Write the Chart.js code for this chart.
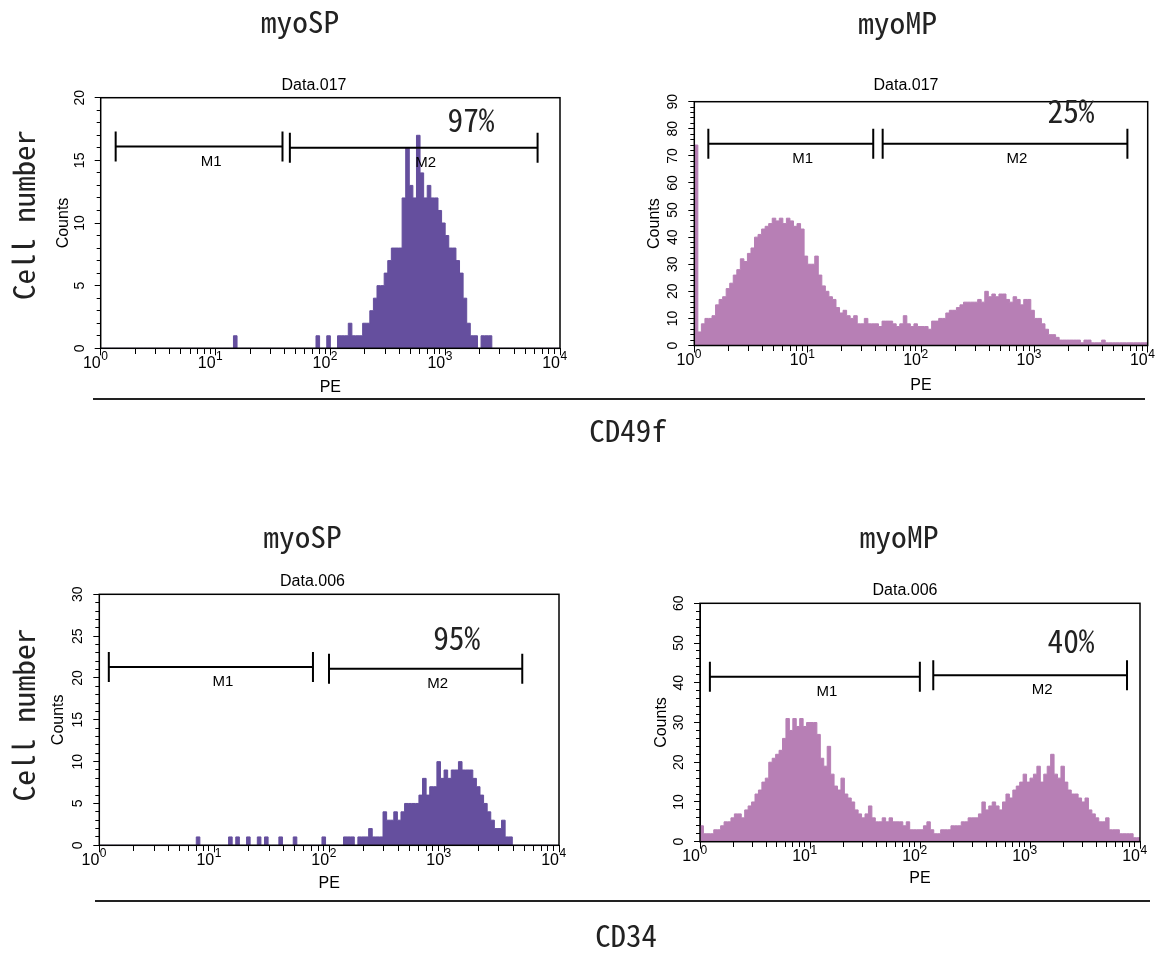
<!DOCTYPE html>
<html>
<head>
<meta charset="utf-8">
<script src="https://cdn.jsdelivr.net/npm/chart.js@4.4.1/dist/chart.umd.min.js"></script>
<style>
html,body{margin:0;padding:0;background:#fff;}
#page{position:relative;width:1173px;height:959px;overflow:hidden;background:#fff;}
canvas{position:absolute;}
</style>
</head>
<body>
<div id="page">
<canvas id="deco" width="1173" height="959" style="left:0;top:0;"></canvas>
<canvas id="c1"></canvas>
<canvas id="c2"></canvas>
<canvas id="c3"></canvas>
<canvas id="c4"></canvas>
</div>
<script>
// ---------- DATA ----------
const channelCount = 128; // log channels across 10^0 .. 10^4
const sampleNames = ['myoSP', 'myoMP'];
const markerNames = ['CD49f', 'CD34'];
const fileNames = ['Data.017', 'Data.006'];
const gateNames = ['M1', 'M2'];
const percentPositive = ['97%', '25%', '95%', '40%'];
const xTickValues = [1,2,3,4,5,6,7,8,9,10,20,30,40,50,60,70,80,90,100,200,300,400,500,600,700,800,900,1000,2000,3000,4000,5000,6000,7000,8000,9000,10000];
const decadeValues = [1, 10, 100, 1000, 10000];
const decadeExponents = ['0', '1', '2', '3', '4'];

// CD49f, myoSP (counts per channel)
const cd49fSP = [
0,0,0,0,0,0,0,0,0,0,
0,0,0,0,0,0,0,0,0,0,
0,0,0,0,0,0,0,0,0,0,
0,0,0,0,0,0,0,1,0,0,
0,0,0,0,0,0,0,0,0,0,
0,0,0,0,0,0,0,0,0,0,
1,0,0,1,0,0,1,1,1,2,
1,1,1,2,2,3,4,5,5,6,
7,8,8,8,12,16,13,12,17,14,
12,13,12,12,11,10,9,8,8,7,
6,4,2,1,1,0,1,1,1,0,
0,0,0,0,0,0,0,0,0,0,
0,0,0,0,0,0,0,0];
// CD49f, myoMP
const cd49fMP = [
74,5,8,10,10,11,15,17,18,21,
23,26,28,32,31,34,36,40,41,43,
44,45,47,46,47,45,47,46,44,45,
43,33,30,30,33,26,22,20,18,17,
14,12,13,11,10,11,8,8,10,8,
8,8,7,9,9,9,8,7,8,11,
8,7,8,7,7,7,6,9,9,10,
10,12,13,13,14,15,16,16,16,16,
17,16,20,18,19,18,19,19,17,16,
18,17,15,17,17,13,10,10,8,6,
4,4,3,2,2,2,2,2,2,1,
2,2,1,1,1,2,1,1,1,1,
1,1,1,1,1,1,1,1];
// CD34, myoSP
const cd34SP = [
0,0,0,0,0,0,0,0,0,0,
0,0,0,0,0,0,0,0,0,0,
0,0,0,0,0,0,0,1,0,0,
0,0,0,0,0,0,1,0,1,0,
0,1,0,0,1,0,1,0,0,0,
1,0,0,0,1,0,0,0,0,0,
0,0,1,0,0,0,0,0,1,1,
1,0,1,1,1,2,1,1,1,4,
3,3,4,3,4,5,5,5,5,6,
8,6,7,7,10,8,9,8,9,9,
10,9,9,9,8,7,6,5,4,3,
2,2,3,1,1,0,0,0,0,0,
0,0,0,0,0,0,0,0];
// CD34, myoMP
const cd34MP = [
4,2,2,2,3,3,4,5,5,6,
7,7,6,8,9,10,12,13,15,16,
20,21,22,23,26,31,28,31,29,31,
29,30,30,30,27,21,19,24,17,14,
13,16,12,11,10,8,7,6,7,9,
6,5,5,6,5,6,5,5,5,4,
5,3,3,3,3,4,5,3,2,2,
3,3,3,4,4,4,5,5,6,6,
6,7,10,8,9,10,9,8,10,12,
11,13,14,15,17,15,16,17,19,15,
17,19,22,17,16,19,15,13,12,12,
11,10,11,8,7,6,5,5,6,3,
3,3,2,2,2,2,1,1];

// marker gates: [from, to, count level]
const cd49fSPGates = [[1.35, 38.3, 16.1], [44.4, 6380, 16.0]];
const cd49fMPGates = [[1.33, 37.9, 74.5], [45.9, 6620, 74.5]];
const cd34SPGates  = [[1.21, 72.3, 21.3], [99.7, 4790, 21.1]];
const cd34MPGates  = [[1.23, 99.7, 41.5], [132, 7620, 41.9]];

// ---------- RENDERING ----------
const channelEdges = Array.from({length: channelCount + 1}, (_, i) => Math.pow(10, 4 * i / channelCount));
const isDecade = v => decadeValues.indexOf(v) >= 0;

Chart.defaults.font.family = '"Liberation Sans", Arial, sans-serif';
Chart.defaults.color = '#000';

const panelDecor = {
  id: 'panelDecor',
  afterDraw(chart, args, o) {
    const {ctx, chartArea: a, scales: {x, y}} = chart;
    ctx.save();
    ctx.strokeStyle = '#000';
    ctx.lineWidth = 1.5;
    ctx.strokeRect(a.left, a.top, a.right - a.left, a.bottom - a.top);
    // exponents of the decade tick labels
    ctx.fillStyle = '#000';
    ctx.font = '12px "Liberation Sans", Arial, sans-serif';
    ctx.textAlign = 'left';
    ctx.textBaseline = 'alphabetic';
    decadeValues.forEach((v, k) => {
      ctx.fillText(decadeExponents[k], x.getPixelForValue(v) + 0.5, a.bottom + 12);
    });
    // marker gates
    ctx.lineWidth = 2;
    ctx.font = '15px "Liberation Sans", Arial, sans-serif';
    ctx.textAlign = 'center';
    ctx.textBaseline = 'middle';
    o.gates.forEach((g, k) => {
      const x1 = x.getPixelForValue(g[0]);
      const x2 = x.getPixelForValue(g[1]);
      const yy = y.getPixelForValue(g[2]);
      ctx.beginPath();
      ctx.moveTo(x1, yy); ctx.lineTo(x2, yy);
      ctx.moveTo(x1, yy - 15); ctx.lineTo(x1, yy + 15);
      ctx.moveTo(x2, yy - 15); ctx.lineTo(x2, yy + 15);
      ctx.stroke();
      const mid = x.getPixelForValue(Math.sqrt(g[0] * g[1]));
      ctx.fillText(gateNames[k], mid + 12, yy + 15);
    });
    ctx.font = '16px "Liberation Sans", Arial, sans-serif';
    ctx.fillText(o.file, o.titleX, o.titleY);
    ctx.font = '32px "Noto Sans Mono CJK JP", "Noto Sans CJK JP", sans-serif';
    ctx.textBaseline = 'alphabetic';
    const w = ctx.measureText(o.pct).width;
    ctx.translate(o.pctX, o.pctY);
    ctx.scale(47 / w, 1);
    ctx.fillStyle = '#222';
    ctx.fillText(o.pct, 0, 0);
    ctx.restore();
  }
};

const panels = [
  {id:'c1', counts:cd49fSP, gates:cd49fSPGates, pct:percentPositive[0], file:fileNames[0], yMax:20, yMinor:1, yMajor:5, color:'#654f9e',
   area:{L:100.7, R:560, T:97.7, B:348.3}, titleAt:[314, 86], pctAt:[471, 131.7], countsX:64, peY:387.5},
  {id:'c2', counts:cd49fMP, gates:cd49fMPGates, pct:percentPositive[1], file:fileNames[0], yMax:90, yMinor:2, yMajor:10, color:'#b77fb5',
   area:{L:694.3, R:1147.7, T:101.7, B:345.5}, titleAt:[906, 86], pctAt:[1071, 122.7], countsX:655, peY:386},
  {id:'c3', counts:cd34SP, gates:cd34SPGates, pct:percentPositive[2], file:fileNames[1], yMax:30, yMinor:1, yMajor:5, color:'#654f9e',
   area:{L:99.3, R:559, T:594.3, B:845.3}, titleAt:[312.5, 581.7], pctAt:[456.7, 650], countsX:59, peY:884},
  {id:'c4', counts:cd34MP, gates:cd34MPGates, pct:percentPositive[3], file:fileNames[1], yMax:60, yMinor:2, yMajor:10, color:'#b77fb5',
   area:{L:700, R:1140, T:603.3, B:841.7}, titleAt:[905, 590.5], pctAt:[1071, 653], countsX:661.7, peY:878.3}
];

function makePanel(p) {
  const cv = document.getElementById(p.id);
  const cl = Math.floor(p.area.L) - 60, ct = Math.floor(p.area.T) - 30;
  const cw = Math.ceil(p.area.R) + 25 - cl, ch = Math.ceil(p.area.B) + 52 - ct;
  cv.width = cw; cv.height = ch;
  cv.style.left = cl + 'px'; cv.style.top = ct + 'px';
  cv.style.width = cw + 'px'; cv.style.height = ch + 'px';
  const yW = p.area.L - cl, padTop = p.area.T - ct, padRight = cl + cw - p.area.R, xH = ct + ch - p.area.B;
  const points = p.counts.map((c, i) => ({x: channelEdges[i], y: c}));
  points.push({x: channelEdges[channelCount], y: p.counts[channelCount - 1]});
  const isMajorY = v => v % p.yMajor === 0;
  return new Chart(cv, {
    type: 'line',
    data: {datasets: [{data: points, stepped: 'before', fill: 'origin', backgroundColor: p.color,
      borderColor: p.color, borderWidth: 1, pointRadius: 0, tension: 0}]},
    options: {
      responsive: false, animation: false, events: [],
      layout: {padding: {left: 0, top: padTop, right: padRight, bottom: 0}},
      plugins: {
        legend: {display: false}, title: {display: false}, tooltip: {enabled: false},
        panelDecor: {gates: p.gates, file: p.file, pct: p.pct,
          titleX: p.titleAt[0] - cl, titleY: p.titleAt[1] - ct,
          pctX: p.pctAt[0] - cl, pctY: p.pctAt[1] - ct}
      },
      scales: {
        x: {
          type: 'logarithmic', min: 1, max: 10000,
          afterFit: s => { s.height = xH; },
          afterBuildTicks: s => { s.ticks = xTickValues.map(v => ({value: v, major: isDecade(v)})); },
          grid: {drawOnChartArea: false, tickLength: 7, tickColor: '#000', tickWidth: 1,
            tickBorderDash: c => (c.tick && isDecade(c.tick.value)) ? [] : [5, 20]},
          border: {display: true, color: '#000', width: 1},
          ticks: {autoSkip: false, maxRotation: 0, minRotation: 0, padding: -1.5, align: 'end', color: '#000',
            font: {size: 16, family: '"Liberation Sans Narrow", "Liberation Sans", Arial, sans-serif'},
            callback: v => isDecade(v) ? '10' : ''},
          title: {display: true, text: 'PE', color: '#000', font: {size: 16},
            padding: {top: 0, bottom: (ct + ch) - p.peY - 9.6}}
        },
        y: {
          type: 'linear', min: 0, max: p.yMax,
          afterFit: s => { s.width = yW; },
          grid: {drawOnChartArea: false, tickLength: 6, tickColor: '#000', tickWidth: 1,
            tickBorderDash: c => (c.tick && isMajorY(c.tick.value)) ? [] : [4, 2],
            tickBorderDashOffset: c => (c.tick && isMajorY(c.tick.value)) ? 0 : 4},
          border: {display: true, color: '#000', width: 1},
          ticks: {autoSkip: false, stepSize: p.yMinor, minRotation: 90, maxRotation: 90, crossAlign: 'center',
            padding: 7.2, color: '#000', font: {size: 14},
            callback: v => isMajorY(v) ? String(v) : ''},
          title: {display: true, text: 'Counts', color: '#000', font: {size: 16},
            padding: {top: p.countsX - cl - 9.6, bottom: 0}}
        }
      }
    },
    plugins: [panelDecor]
  });
}
panels.forEach(makePanel);

// ---------- figure labels ----------
const dc = document.getElementById('deco').getContext('2d');
dc.strokeStyle = '#222';
dc.lineWidth = 2;
dc.beginPath();
dc.moveTo(93, 399); dc.lineTo(1145, 399);
dc.moveTo(95, 901); dc.lineTo(1150, 901);
dc.stroke();
const bigFont = '30px "Noto Sans Mono CJK JP", "Noto Sans CJK JP", sans-serif';
function fitText(text, cx, base, targetW, vertical) {
  dc.save();
  dc.font = bigFont;
  dc.fillStyle = '#222';
  dc.textAlign = 'center';
  dc.textBaseline = 'alphabetic';
  const w = dc.measureText(text).width;
  dc.translate(cx, base);
  if (vertical) dc.rotate(-Math.PI / 2);
  dc.scale(targetW / w, 1);
  dc.fillText(text, 0, 0);
  dc.restore();
}
fitText(sampleNames[0], 300, 33.3, 78.6);
fitText(sampleNames[1], 897.5, 34, 79);
fitText(markerNames[0], 628, 441.7, 77.4);
fitText(sampleNames[0], 302.5, 548.3, 78.4);
fitText(sampleNames[1], 899, 548, 79);
fitText(markerNames[1], 626, 946.7, 61.7);
// vertical "Cell number": baseline at x=35
fitText('Cell number', 35, 215, 170, true);
fitText('Cell number', 35, 715, 173, true);
</script>
</body>
</html>
